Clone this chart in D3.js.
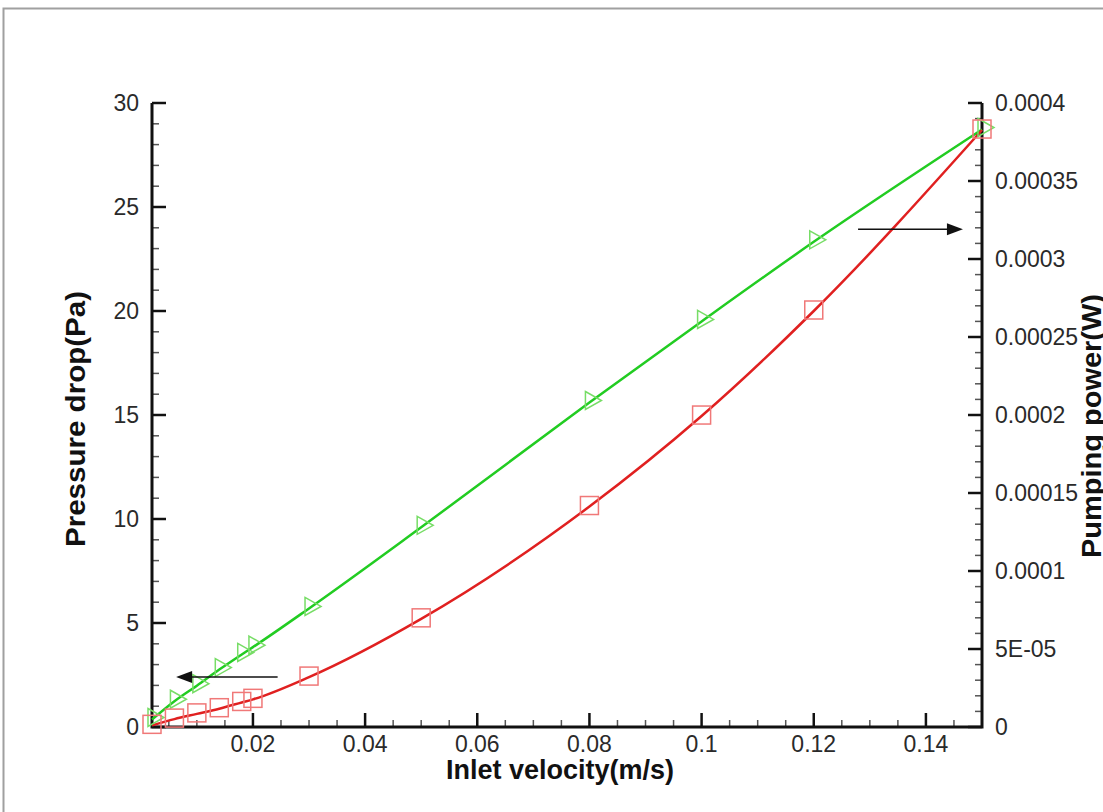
<!DOCTYPE html>
<html>
<head>
<meta charset="utf-8">
<script src="https://cdn.jsdelivr.net/npm/d3@7"></script>
<style>
  body { margin: 0; background: #fff; }
  svg { display: block; }
</style>
</head>
<body>
<svg id="chart" width="1103" height="812"></svg>
<script>
// inlet velocity (m/s)
const velocity = [0.002, 0.006, 0.010, 0.014, 0.018, 0.020, 0.03, 0.05, 0.08, 0.1, 0.12, 0.15]
// pressure drop (Pa), left axis
const pressureDrop = [0.08, 0.38, 0.63, 0.88, 1.18, 1.33, 2.4, 5.2, 10.6, 14.95, 20.0, 28.7]
// pumping power (W), right axis
const pumpingPower = [4.8e-6, 1.65e-5, 2.65e-5, 3.68e-5, 4.65e-5, 5.12e-5, 7.6e-5, 1.28e-4, 2.08e-4, 2.60e-4, 3.11e-4, 3.83e-4]

const xTicks = [0.02, 0.04, 0.06, 0.08, 0.1, 0.12, 0.14]
const leftTicks = [0, 5, 10, 15, 20, 25, 30]
const rightTicks = [0, 5e-5, 1e-4, 1.5e-4, 2e-4, 2.5e-4, 3e-4, 3.5e-4, 4e-4]
const rightTickLabels = ['0', '5E-05', '0.0001', '0.00015', '0.0002', '0.00025', '0.0003', '0.00035', '0.0004']

let svg = d3.select('#chart')
let font = '"Liberation Sans", Arial, sans-serif'

// page frame
svg.append('rect')
    .attr('x', 3.5).attr('y', 8.5)
    .attr('width', 1200).attr('height', 900)
    .attr('fill', 'none')
    .attr('stroke', '#a0a0a0')
    .attr('stroke-width', 2)

let plotLeft = 152, plotRight = 982, plotTop = 103, plotBottom = 727

let x = d3.scaleLinear().domain([0.002, 0.15]).range([plotLeft, plotRight])
let yL = d3.scaleLinear().domain([0, 30]).range([plotBottom, plotTop])
let yR = d3.scaleLinear().domain([0, 0.0004]).range([plotBottom, plotTop])

// ticks, pointing inward
let g = svg.append('g')
d3.range(0.005, 0.1499, 0.005).forEach(function(v) {
    let major = xTicks.some(t => Math.abs(t - v) < 1e-9)
    g.append('line')
        .attr('x1', x(v)).attr('x2', x(v))
        .attr('y1', plotBottom).attr('y2', plotBottom - (major ? 14 : 7))
        .attr('stroke', major ? '#111' : '#555')
        .attr('stroke-width', major ? 2.5 : 1.5)
})
d3.range(0, 31, 1).forEach(function(v) {
    let major = v % 5 === 0
    g.append('line')
        .attr('x1', plotLeft).attr('x2', plotLeft + (major ? 14 : 7))
        .attr('y1', yL(v)).attr('y2', yL(v))
        .attr('stroke', major ? '#111' : '#555')
        .attr('stroke-width', major ? 2.5 : 1.5)
})
d3.range(0, 41, 1).forEach(function(i) {
    let v = i * 1e-5
    let major = i % 5 === 0
    g.append('line')
        .attr('x1', plotRight).attr('x2', plotRight - (major ? 14 : 7))
        .attr('y1', yR(v)).attr('y2', yR(v))
        .attr('stroke', major ? '#111' : '#555')
        .attr('stroke-width', major ? 2.5 : 1.5)
})

// axis lines
svg.append('path')
    .attr('d', `M${plotLeft},${plotTop}V${plotBottom}H${plotRight}V${plotTop}`)
    .attr('fill', 'none')
    .attr('stroke', '#111')
    .attr('stroke-width', 3)

// tick labels
svg.append('g').selectAll('text').data(xTicks).join('text')
    .attr('x', d => x(d)).attr('y', plotBottom + 25)
    .attr('text-anchor', 'middle')
    .attr('font-family', font).attr('font-size', '23px')
    .attr('fill', '#2a2a2a')
    .text(d => d)
svg.append('g').selectAll('text').data(leftTicks).join('text')
    .attr('x', plotLeft - 13).attr('y', d => yL(d) + 8)
    .attr('text-anchor', 'end')
    .attr('font-family', font).attr('font-size', '23px')
    .attr('fill', '#2a2a2a')
    .text(d => d)
svg.append('g').selectAll('text').data(rightTicks).join('text')
    .attr('x', plotRight + 13).attr('y', d => yR(d) + 8)
    .attr('font-family', font).attr('font-size', '23px')
    .attr('fill', '#2a2a2a')
    .text((d, i) => rightTickLabels[i])

// axis titles
svg.append('text')
    .attr('x', 446).attr('y', 779)
    .attr('font-family', font).attr('font-size', '27px').attr('font-weight', 'bold')
    .attr('fill', '#111')
    .text('Inlet velocity(m/s)')
svg.append('text')
    .attr('transform', 'translate(85,547) rotate(-90)')
    .attr('font-family', font).attr('font-size', '27px').attr('font-weight', 'bold')
    .attr('textLength', 256).attr('lengthAdjust', 'spacingAndGlyphs')
    .attr('fill', '#111')
    .text('Pressure drop(Pa)')
svg.append('text')
    .attr('transform', 'translate(1101,558) rotate(-90)')
    .attr('font-family', font).attr('font-size', '27px').attr('font-weight', 'bold')
    .attr('textLength', 264).attr('lengthAdjust', 'spacingAndGlyphs')
    .attr('fill', '#111')
    .text('Pumping power(W)')

// curves
let redData = velocity.map((v, i) => [v, pressureDrop[i]])
let greenData = velocity.map((v, i) => [v, pumpingPower[i]])

svg.append('path')
    .datum(greenData)
    .attr('d', d3.line().x(d => x(d[0])).y(d => yR(d[1])).curve(d3.curveMonotoneX))
    .attr('fill', 'none')
    .attr('stroke', '#22cc22')
    .attr('stroke-width', 2.5)
svg.append('path')
    .datum(redData)
    .attr('d', d3.line().x(d => x(d[0])).y(d => yL(d[1])).curve(d3.curveMonotoneX))
    .attr('fill', 'none')
    .attr('stroke', '#e02020')
    .attr('stroke-width', 2.5)

// markers
let s = 9
svg.append('g').selectAll('path').data(greenData).join('path')
    .attr('d', d => {
        let cx = x(d[0]) + 3, cy = yR(d[1]) - 2
        return `M${cx - s + 2},${cy - s}L${cx + s},${cy}L${cx - s + 2},${cy + s}Z`
    })
    .attr('fill', 'none')
    .attr('stroke', '#77dd66')
    .attr('stroke-width', 1.5)
svg.append('g').selectAll('rect').data(redData).join('rect')
    .attr('x', d => x(d[0]) - s).attr('y', d => yL(d[1]) - s - 1)
    .attr('width', 2 * s).attr('height', 2 * s)
    .attr('fill', 'none')
    .attr('stroke', '#f07878')
    .attr('stroke-width', 1.5)

// arrows
function arrow(x1, x2, y) {
    let dir = x2 > x1 ? 1 : -1
    svg.append('line')
        .attr('x1', x1).attr('x2', x2 - dir * 14)
        .attr('y1', y).attr('y2', y)
        .attr('stroke', '#111').attr('stroke-width', 1.5)
    svg.append('path')
        .attr('d', `M${x2},${y}L${x2 - dir * 16},${y - 6}L${x2 - dir * 16},${y + 6}Z`)
        .attr('fill', '#111')
}
arrow(x(0.0244), x(0.0063), yL(2.4))
arrow(x(0.1279), x(0.1466), yR(0.000319))
</script>
</body>
</html>
